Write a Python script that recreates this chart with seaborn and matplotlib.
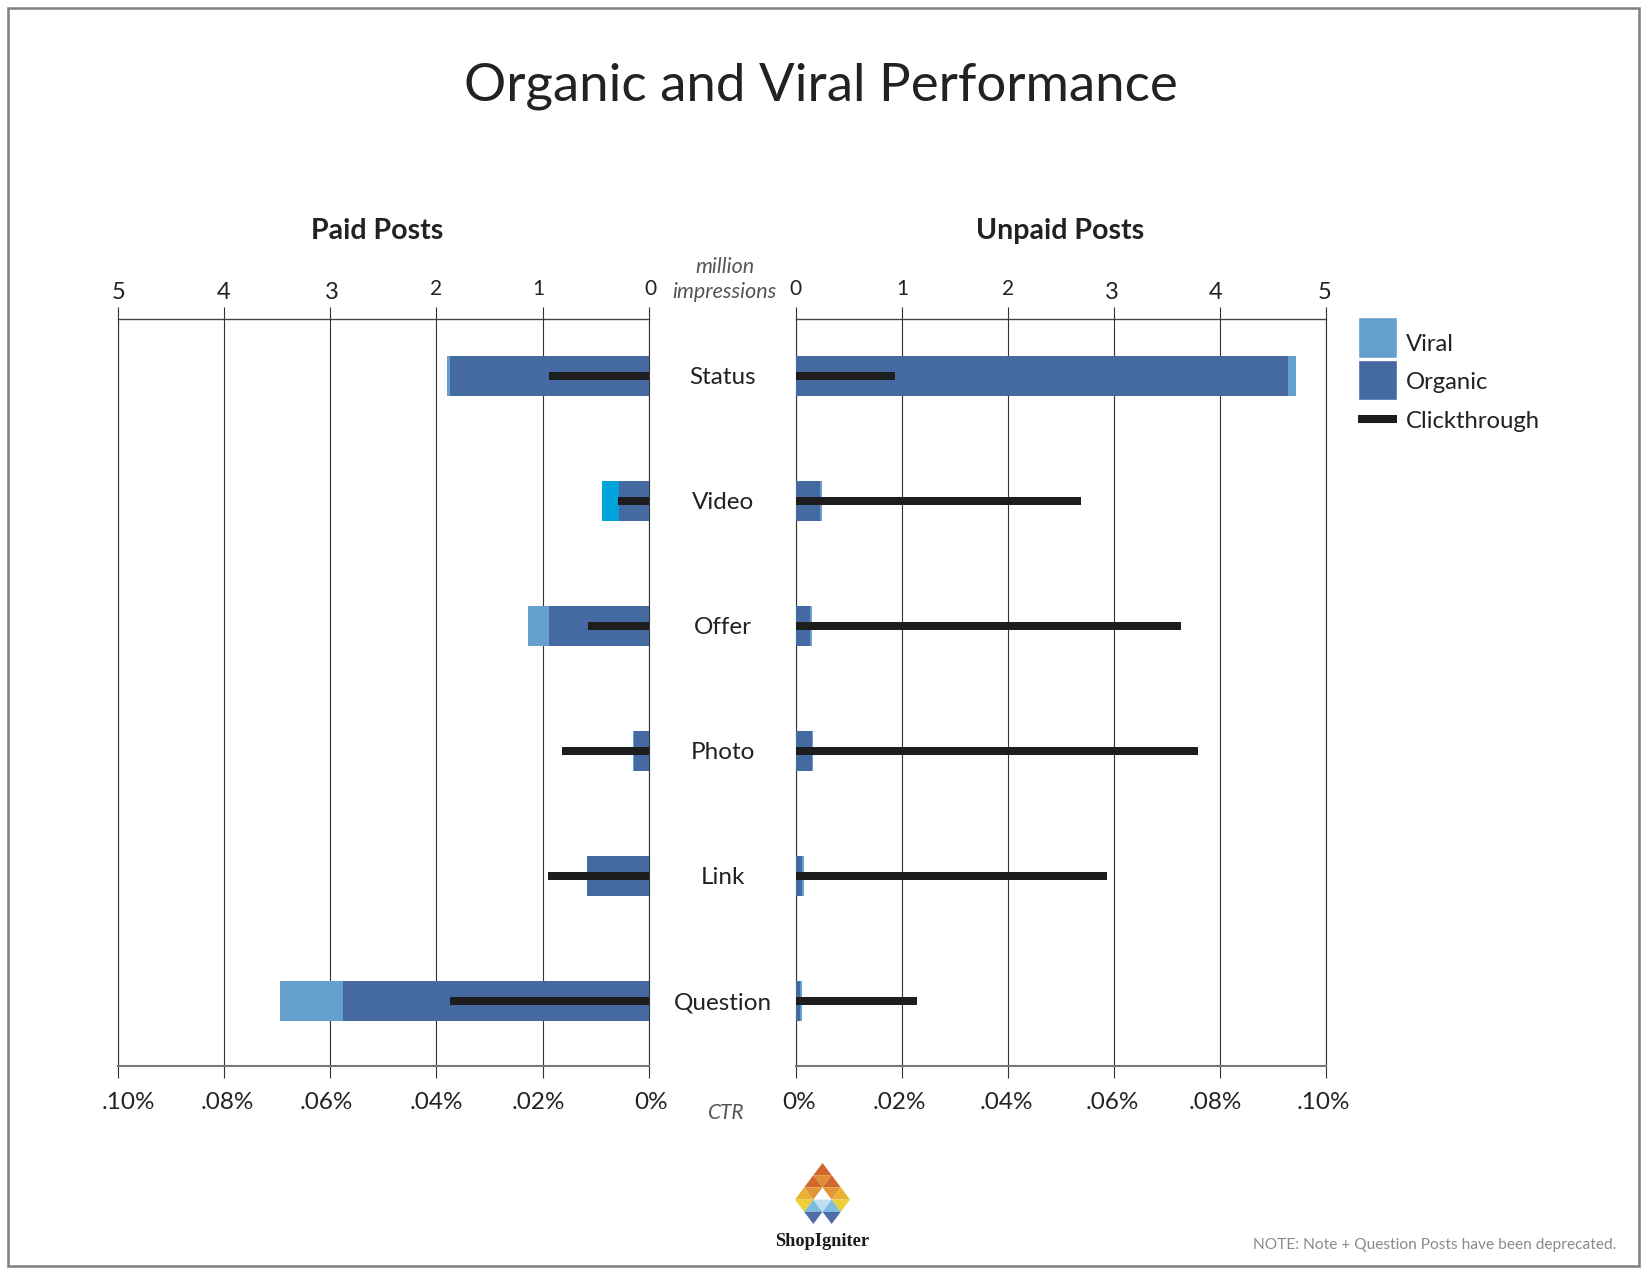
import matplotlib
matplotlib.use("Agg")
import matplotlib.pyplot as plt
import seaborn as sns
from matplotlib.lines import Line2D
from matplotlib.patches import Patch, Rectangle
from matplotlib.transforms import Affine2D

W, H = 1651, 1275

# Values (million impressions, CTR in percent)
categories = ["Status", "Video", "Offer", "Photo", "Link", "Question"]
paid_total = [1.90, 0.44, 1.14, 0.15, 0.58, 3.47]
paid_organic = [1.868, 0.284, 0.944, 0.14, 0.58, 2.88]
paid_ctr = [0.0188, 0.0057, 0.0115, 0.0164, 0.019, 0.0374]
unpaid_total = [4.72, 0.245, 0.148, 0.16, 0.08, 0.057]
unpaid_organic = [4.64, 0.226, 0.132, 0.147, 0.06, 0.04]
unpaid_ctr = [0.0187, 0.0538, 0.0727, 0.0758, 0.0586, 0.0228]

impression_ticks = [0, 1, 2, 3, 4, 5]
ctr_ticks = [0, 0.02, 0.04, 0.06, 0.08, 0.10]
ctr_labels = ["0%", ".02%", ".04%", ".06%", ".08%", ".10%"]

VIRAL = "#659fcb"
VIDEO_VIRAL = "#00a3db"
ORGANIC = "#4569a1"
CLICK = "#1d1d1d"
TEXT = "#222222"
GRID = "#333333"

sns.set_style("white")
plt.rcParams["font.family"] = ["Lato", "DejaVu Sans"]


def box(x0, y0, x1, y1):
    # pixel box -> figure fractions
    return [x0 / W, 1 - y1 / H, (x1 - x0) / W, (y1 - y0) / H]


def fig_text(x, y, s, **kw):
    fig.text(x / W, 1 - y / H, s, ha="center", va="center", **kw)


def nudge(labels, shifts):
    # the hand placed labels are not quite centred on their ticks
    for lab, (dx, dy) in zip(labels, shifts):
        lab.set_transform(lab.get_transform() + Affine2D().translate(dx, dy))


def draw_side(ax, total, organic, ctr, xlim, ctr_xlim):
    bar_kw = dict(y=categories, saturation=1, orient="h", linewidth=0)
    sns.barplot(x=total, color=VIRAL, width=0.32, ax=ax, **bar_kw)
    sns.barplot(x=organic, color=ORGANIC, width=0.32, ax=ax, **bar_kw)
    twin = ax.twiny()
    sns.barplot(x=ctr, color=CLICK, width=0.068, ax=twin, **bar_kw)

    ax.set_xlim(*xlim)
    twin.set_xlim(*ctr_xlim)
    ax.set_ylim(5.52, -0.455)
    ax.set_xlabel("")
    ax.set_ylabel("")
    twin.set_xlabel("")
    twin.set_ylabel("")

    ax.set_axisbelow(True)
    ax.grid(axis="x", color=GRID, lw=0.8)
    ax.grid(axis="y", visible=False)
    ax.xaxis.tick_top()
    ax.set_xticks(impression_ticks)
    ax.set_xticklabels([str(t) for t in impression_ticks], color=TEXT)
    ax.tick_params(axis="x", top=True, bottom=True, length=8.6, width=0.8, color=GRID,
                   pad=5, labelsize=17, direction="out")
    for t, lab in zip(impression_ticks, ax.get_xticklabels()):
        if t <= 2:
            lab.set_fontsize(15)

    twin.xaxis.tick_bottom()
    twin.set_xticks(ctr_ticks)
    twin.set_xticklabels(ctr_labels, color=TEXT)
    twin.tick_params(axis="x", length=0, pad=19, labelsize=17.5)

    for spine in twin.spines.values():
        spine.set_visible(False)
    for side in ("left", "right"):
        ax.spines[side].set_visible(True)
        ax.spines[side].set_color(GRID)
        ax.spines[side].set_linewidth(0.8)
        ax.spines[side].set_zorder(0.5)
    ax.spines["top"].set_visible(True)
    ax.spines["top"].set_color("#444444")
    ax.spines["top"].set_linewidth(1.0)
    ax.spines["bottom"].set_visible(True)
    ax.spines["bottom"].set_color("#777777")
    ax.spines["bottom"].set_linewidth(1.5)
    return twin


fig = plt.figure(figsize=(W / 100, H / 100), dpi=100, facecolor="white")

# outer frame
fig.add_artist(Rectangle((8 / W, 1 - 1266 / H), (1639 - 8) / W, (1266 - 8) / H,
                         transform=fig.transFigure, fill=False, ec="#7f7f7f", lw=1.8))

ax_paid = fig.add_axes(box(118, 319, 648.7, 1066))
ax_unpaid = fig.add_axes(box(796, 319, 1326, 1066))

twin_paid = draw_side(ax_paid, paid_total, paid_organic, paid_ctr, (5, 0), (0.10, 0))
twin_unpaid = draw_side(ax_unpaid, unpaid_total, unpaid_organic, unpaid_ctr, (0, 5), (0, 0.10))

# the paid Video viral block is a brighter blue in the original
ax_paid.patches[1].set_facecolor(VIDEO_VIRAL)

ax_unpaid.set_yticks([])
ax_paid.set_yticks(range(len(categories)))
ax_paid.set_yticklabels(categories, ha="center", color=TEXT)
ax_paid.tick_params(axis="y", left=False, right=False, labelleft=False, labelright=True,
                    pad=49.8, labelsize=17.5)

# tick label offsets in pixels, old style figures drop below the baseline
nudge(ax_paid.get_xticklabels(), [(2, 1), (-4, 1), (0, 1), (2, -3), (-1, -3), (1, -3)])
nudge(ax_unpaid.get_xticklabels(), [(-1, 1), (0, 1), (0, 1), (-2, -3), (-4, -3), (-1, -3)])
nudge(twin_paid.get_xticklabels(), [(2.5, 0), (-4, 0), (0, 0), (-4, 0), (3.5, 0), (10, 0)])
nudge(twin_unpaid.get_xticklabels(), [(3, 0), (-2.5, 0), (-2, 0), (-2, 0), (-5, 0), (-3, 0)])

fig_text(821, 86, "Organic and Viral Performance", fontsize=38, color=TEXT)
fig_text(377, 231, "Paid Posts", fontsize=20.5, fontweight="bold", color=TEXT)
fig_text(1060, 231, "Unpaid Posts", fontsize=20.5, fontweight="bold", color=TEXT)
fig_text(724.5, 267, "million", fontsize=15.5, fontstyle="italic", color="#555555")
fig_text(724.5, 292.5, "impressions", fontsize=15.5, fontstyle="italic", color="#555555")
fig_text(726, 1113, "CTR", fontsize=15, fontstyle="italic", color="#555555")
fig_text(1434.5, 1245, "NOTE: Note + Question Posts have been deprecated.", fontsize=11.2, color="#8a8a8a")

handles = [
    Patch(facecolor=VIRAL, label="Viral"),
    Patch(facecolor=ORGANIC, label="Organic"),
    Line2D([], [], color=CLICK, lw=5.8, solid_capstyle="butt", label="Clickthrough"),
]
legend = fig.legend(handles=handles, loc="upper left", bbox_to_anchor=(1357.5 / W, 1 - 317.5 / H), frameon=False,
                    fontsize=17.2, handlelength=1.67, handleheight=2.2, labelspacing=0.12, handletextpad=0.36,
                    borderpad=0, borderaxespad=0, labelcolor=TEXT)
nudge(legend.get_texts(), [(0, -6), (0, -1), (0, 3)])
nudge(legend.get_lines(), [(0, -2)])

# logo, a small lattice of triangles: row, centre, pointing up, colour
logo_cells = [
    (0, 0, True, "#d2672c"),
    (1, -1, True, "#d2672c"), (1, 0, False, "#e08d35"), (1, 1, True, "#d2672c"),
    (2, -2, True, "#e9b331"), (2, -1, False, "#e39436"), (2, 1, False, "#e39436"), (2, 2, True, "#e9b331"),
    (3, -2, False, "#eecf3a"), (3, -1, True, "#7cbce0"), (3, 0, False, "#c0e0f0"), (3, 1, True, "#7cbce0"),
    (3, 2, False, "#eecf3a"),
    (4, -1, False, "#4f6da8"), (4, 1, False, "#4f6da8"),
]
ax_logo = fig.add_axes(box(795, 1163, 850, 1224))
ax_logo.set_xlim(-3, 3)
ax_logo.set_ylim(5, 0)
ax_logo.axis("off")
for row, c, up, col in logo_cells:
    if up:
        ax_logo.fill([c - 1, c, c + 1], [row + 1, row, row + 1], color=col, lw=0)
    else:
        ax_logo.fill([c - 1, c, c + 1], [row, row + 1, row], color=col, lw=0)
fig_text(822, 1242, "ShopIgniter", fontsize=13.2, fontweight="bold", family="Liberation Serif", color="#1a1a1a")

fig.savefig("out.png", dpi=100)
